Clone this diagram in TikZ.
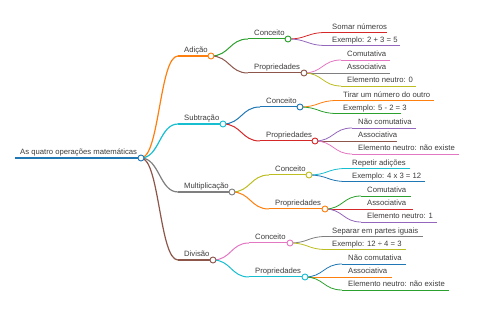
\documentclass[tikz,border=0pt]{standalone}
\usepackage{fontspec}
\setmainfont{Liberation Sans}
\usetikzlibrary{calc}
\definecolor{c0}{HTML}{1F77B4}
\definecolor{c1}{HTML}{FF7F0E}
\definecolor{c2}{HTML}{2CA02C}
\definecolor{c3}{HTML}{D62728}
\definecolor{c4}{HTML}{9467BD}
\definecolor{c5}{HTML}{8C564B}
\definecolor{c6}{HTML}{E377C2}
\definecolor{c7}{HTML}{7F7F7F}
\definecolor{c8}{HTML}{BCBD22}
\definecolor{c9}{HTML}{17BECF}
\definecolor{txt}{RGB}{60,60,60}
\tikzset{
  lbl/.style={anchor=base west, inner sep=0pt, font=\fontsize{7.7}{9}\selectfont, text=txt},
  dot/.style={circle, fill=white, minimum size=6pt, inner sep=0pt, line width=0.9pt},
  w0/.style={line width=1.5pt},
  w1/.style={line width=1.2pt},
  w2/.style={line width=1pt},
  w3/.style={line width=0.8pt},
}
% name, start x, end x, y, style, text
\newcommand\mmitem[6]{%
  \coordinate (#1-s) at (#2,#4);
  \coordinate (#1-e) at (#3,#4);
  \draw[#5] (#1-s) -- (#1-e);
  \node[lbl] (#1) at (#2+6,#4-3) {#6};
}
\newcommand\mmlink[3]{%
  \draw[#1] let \p1=(#2), \p2=(#3) in (\p1) .. controls ({(\x1+\x2)/2},\y1) and ({(\x1+\x2)/2},\y2) .. (\p2);
}
\newcommand\mmdot[2]{\node[dot, draw=#2] (#1-c) at (#1-e) {};}
\begin{document}
\begin{tikzpicture}[x=1pt,y=-1pt]
\useasboundingbox (0,0) rectangle (480,320);
% root
\coordinate (R-s) at (15,158);
\coordinate (R-e) at (141,158);
\draw[c0,w0] (R-s) -- (R-e);
\node[lbl] (R) at (20,155) {As quatro operações matemáticas};
% level 1
\mmitem{A}{178}{211}{56}{c1,w1}{Adição}
\mmitem{S}{178}{223}{124}{c9,w1}{Subtração}
\mmitem{M}{178}{232}{192}{c7,w1}{Multiplicação}
\mmitem{D}{178}{213}{260}{c5,w1}{Divisão}
% level 2
\mmitem{A1}{248}{288}{39}{c2,w2}{Conceito}
\mmitem{A2}{248}{304}{73}{c5,w2}{Propriedades}
\mmitem{S1}{260}{300}{107}{c0,w2}{Conceito}
\mmitem{S2}{260}{315}{141}{c3,w2}{Propriedades}
\mmitem{M1}{269}{309}{175}{c8,w2}{Conceito}
\mmitem{M2}{269}{325}{209}{c1,w2}{Propriedades}
\mmitem{D1}{249}{290}{243}{c6,w2}{Conceito}
\mmitem{D2}{249}{305}{277}{c9,w2}{Propriedades}
% leaves
\mmitem{A1a}{326}{387}{32.5}{c3,w3}{Somar números}
\mmitem{A1b}{326}{400}{45.5}{c4,w3}{Exemplo: 2 + 3 = 5}
\mmitem{A2a}{341}{390}{60}{c6,w3}{Comutativa}
\mmitem{A2b}{341}{390}{73}{c7,w3}{Associativa}
\mmitem{A2c}{341}{416}{86}{c8,w3}{Elemento neutro: 0}
\mmitem{S1a}{337}{434}{100.5}{c1,w3}{Tirar um número do outro}
\mmitem{S1b}{337}{401}{113.5}{c2,w3}{Exemplo: 5 - 2 = 3}
\mmitem{S2a}{352}{416}{128}{c4,w3}{Não comutativa}
\mmitem{S2b}{352}{397}{141}{c5,w3}{Associativa}
\mmitem{S2c}{352}{459}{154}{c6,w3}{Elemento neutro: não existe}
\mmitem{M1a}{346}{410}{168.5}{c9,w3}{Repetir adições}
\mmitem{M1b}{346}{425}{181.5}{c0,w3}{Exemplo: 4 x 3 = 12}
\mmitem{M2a}{361}{411}{196}{c2,w3}{Comutativa}
\mmitem{M2b}{361}{413}{209}{c3,w3}{Associativa}
\mmitem{M2c}{361}{437}{222}{c4,w3}{Elemento neutro: 1}
\mmitem{D1a}{326}{423}{236.5}{c7,w3}{Separar em partes iguais}
\mmitem{D1b}{326}{406}{249.5}{c8,w3}{Exemplo: 12 ÷ 4 = 3}
\mmitem{D2a}{342}{406}{264}{c0,w3}{Não comutativa}
\mmitem{D2b}{342}{392}{277}{c1,w3}{Associativa}
\mmitem{D2c}{342}{449}{290}{c2,w3}{Elemento neutro: não existe}
% links
\mmlink{c1,w1}{R-e}{A-s}
\mmlink{c9,w1}{R-e}{S-s}
\mmlink{c7,w1}{R-e}{M-s}
\mmlink{c5,w1}{R-e}{D-s}
\mmlink{c2,w2}{A-e}{A1-s}
\mmlink{c5,w2}{A-e}{A2-s}
\mmlink{c0,w2}{S-e}{S1-s}
\mmlink{c3,w2}{S-e}{S2-s}
\mmlink{c8,w2}{M-e}{M1-s}
\mmlink{c1,w2}{M-e}{M2-s}
\mmlink{c6,w2}{D-e}{D1-s}
\mmlink{c9,w2}{D-e}{D2-s}
\mmlink{c3,w3}{A1-e}{A1a-s}
\mmlink{c4,w3}{A1-e}{A1b-s}
\mmlink{c6,w3}{A2-e}{A2a-s}
\mmlink{c7,w3}{A2-e}{A2b-s}
\mmlink{c8,w3}{A2-e}{A2c-s}
\mmlink{c1,w3}{S1-e}{S1a-s}
\mmlink{c2,w3}{S1-e}{S1b-s}
\mmlink{c4,w3}{S2-e}{S2a-s}
\mmlink{c5,w3}{S2-e}{S2b-s}
\mmlink{c6,w3}{S2-e}{S2c-s}
\mmlink{c9,w3}{M1-e}{M1a-s}
\mmlink{c0,w3}{M1-e}{M1b-s}
\mmlink{c2,w3}{M2-e}{M2a-s}
\mmlink{c3,w3}{M2-e}{M2b-s}
\mmlink{c4,w3}{M2-e}{M2c-s}
\mmlink{c7,w3}{D1-e}{D1a-s}
\mmlink{c8,w3}{D1-e}{D1b-s}
\mmlink{c0,w3}{D2-e}{D2a-s}
\mmlink{c1,w3}{D2-e}{D2b-s}
\mmlink{c2,w3}{D2-e}{D2c-s}
% circles
\mmdot{R}{c0}
\mmdot{A}{c1}
\mmdot{S}{c9}
\mmdot{M}{c7}
\mmdot{D}{c5}
\mmdot{A1}{c2}
\mmdot{A2}{c5}
\mmdot{S1}{c0}
\mmdot{S2}{c3}
\mmdot{M1}{c8}
\mmdot{M2}{c1}
\mmdot{D1}{c6}
\mmdot{D2}{c9}
\end{tikzpicture}
\end{document}
